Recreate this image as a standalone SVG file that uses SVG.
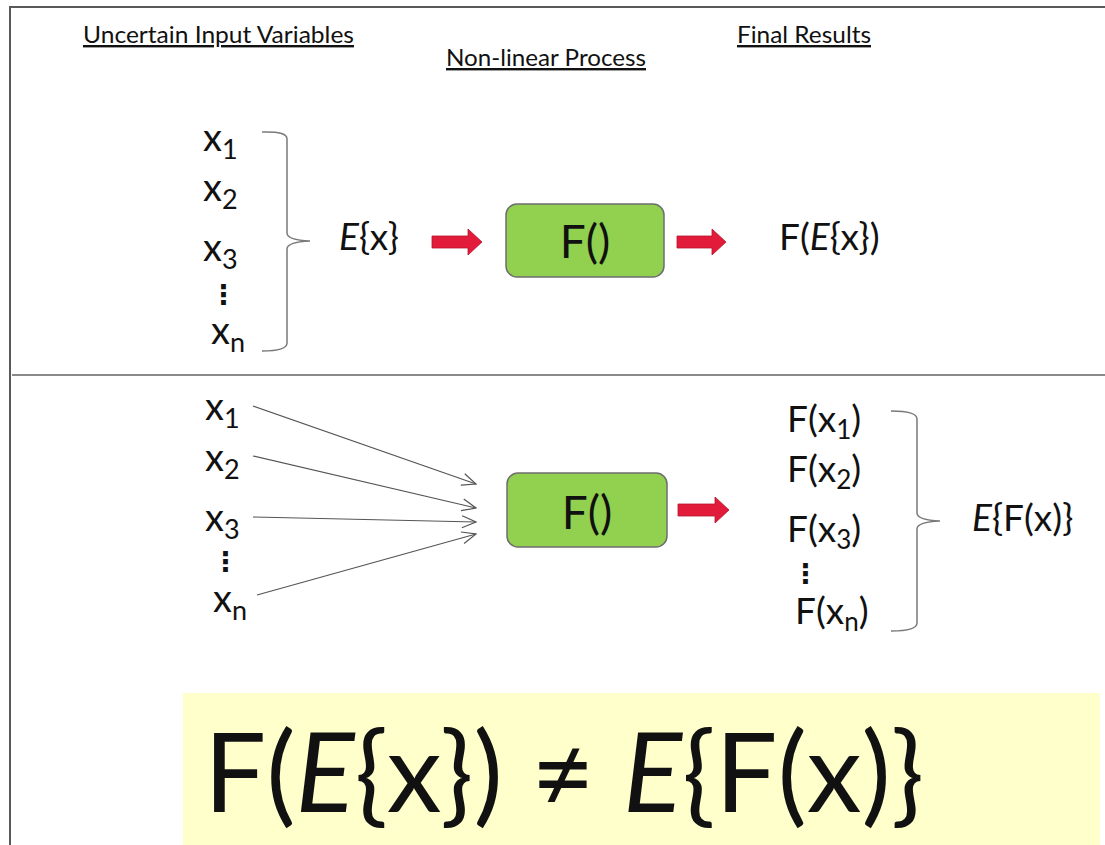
<svg xmlns="http://www.w3.org/2000/svg" width="1105" height="845" viewBox="0 0 1105 845">
  <defs>
    <style>
      text { font-family: Lato, "Open Sans", "DejaVu Sans", sans-serif; fill: #111; }
      .head { font-size: 24px; text-decoration: underline; }
      .var { font-size: 38px; }
      .sub { font-size: 27px; }
      .res { font-size: 37px; }
      .rsub { font-size: 26px; }
      .fn { font-size: 46px; text-anchor: middle; }
      .dots { font-family: "DejaVu Sans", sans-serif; font-size: 27px; font-weight: bold; }
      .it { font-style: italic; }
      .frame { stroke: #5a5a5a; stroke-width: 2; fill: none; }
      .divider { stroke: #8a8a8a; stroke-width: 2; fill: none; }
      .brace { stroke: #7a7a7a; stroke-width: 1.5; fill: none; }
      .box { fill: #92D050; stroke: #6e6e6e; stroke-width: 1.5; }
      .bigarrow { fill: #E31B3A; stroke: #B5152E; stroke-width: 0.8; }
      .thin { stroke: #555; stroke-width: 1.2; fill: none; marker-end: url(#open); }
    </style>
    <marker id="open" viewBox="0 0 16 14" refX="15" refY="7" markerWidth="16" markerHeight="14" markerUnits="userSpaceOnUse" orient="auto">
      <path d="M1,1 L15,7 L1,13" fill="none" stroke="#555" stroke-width="1.2"/>
    </marker>
  </defs>

  <rect width="1105" height="845" fill="#ffffff"/>

  <!-- frame and section divider -->
  <g id="frame">
    <path class="frame" d="M10,845 L10,7 L1105,7"/>
    <path class="divider" d="M12,375 L1105,375"/>
  </g>

  <!-- column headings -->
  <g id="headings">
    <text class="head" x="83" y="43" textLength="271" lengthAdjust="spacingAndGlyphs">Uncertain Input Variables</text>
    <text class="head" x="446" y="66" textLength="200" lengthAdjust="spacingAndGlyphs">Non-linear Process</text>
    <text class="head" x="737" y="43" textLength="134" lengthAdjust="spacingAndGlyphs">Final Results</text>
  </g>

  <!-- upper case: function of the expected value -->
  <g id="top-inputs">
    <text class="var" x="203" y="151">x<tspan class="sub" dy="8">1</tspan></text>
    <text class="var" x="203" y="201">x<tspan class="sub" dy="8">2</tspan></text>
    <text class="var" x="203" y="261">x<tspan class="sub" dy="8">3</tspan></text>
    <text class="dots" x="210" y="304">⋮</text>
    <text class="var" x="211" y="344">x<tspan class="sub" dy="8">n</tspan></text>
  </g>
  <g id="top-brace">
    <path class="brace" d="M262,132 Q287,131 287,139 L287,233 Q287,240 310,241 Q287,242 287,249 L287,343 Q287,351 262,351"/>
  </g>
  <g id="top-mean">
    <text class="res" x="339" y="250"><tspan class="it">E</tspan>{x}</text>
  </g>
  <g id="top-process">
    <rect class="box" x="506" y="204" width="158" height="73" rx="11"/>
    <text class="fn" x="585" y="258">F()</text>
  </g>
  <g id="top-result">
    <text class="res" x="779" y="250">F(<tspan class="it">E</tspan>{x})</text>
  </g>

  <!-- lower case: expected value of the function -->
  <g id="bottom-inputs">
    <text class="var" x="205" y="420">x<tspan class="sub" dy="8">1</tspan></text>
    <text class="var" x="205" y="471">x<tspan class="sub" dy="8">2</tspan></text>
    <text class="var" x="205" y="531">x<tspan class="sub" dy="8">3</tspan></text>
    <text class="dots" x="212" y="571">⋮</text>
    <text class="var" x="213" y="612">x<tspan class="sub" dy="8">n</tspan></text>
  </g>
  <g id="bottom-process">
    <rect class="box" x="507" y="473" width="160" height="74" rx="11"/>
    <text class="fn" x="587" y="529">F()</text>
  </g>
  <g id="bottom-results">
    <text class="res" x="787" y="432">F(x<tspan class="rsub" dy="7">1</tspan><tspan dy="-7">)</tspan></text>
    <text class="res" x="787" y="482">F(x<tspan class="rsub" dy="7">2</tspan><tspan dy="-7">)</tspan></text>
    <text class="res" x="787" y="542">F(x<tspan class="rsub" dy="7">3</tspan><tspan dy="-7">)</tspan></text>
    <text class="dots" x="792" y="583">⋮</text>
    <text class="res" x="795" y="624">F(x<tspan class="rsub" dy="7">n</tspan><tspan dy="-7">)</tspan></text>
  </g>
  <g id="bottom-brace">
    <path class="brace" d="M891,411 Q917,411 917,419 L917,513 Q917,520 940,521 Q917,522 917,529 L917,623 Q917,631 891,631"/>
  </g>
  <g id="bottom-mean">
    <text class="res" x="972" y="531"><tspan class="it">E</tspan>{F(x)}</text>
  </g>

  <!-- connectors -->
  <g id="connectors">
    <polygon class="bigarrow" points="432,236 468,236 468,229 482,242 468,255 468,248 432,248"/>
    <polygon class="bigarrow" points="677,236 712,236 712,229 726,242 712,255 712,248 677,248"/>
    <polygon class="bigarrow" points="678,504 715,504 715,497 729,510 715,523 715,516 678,516"/>
    <line class="thin" x1="253" y1="406" x2="476" y2="484"/>
    <line class="thin" x1="253" y1="456" x2="476" y2="508"/>
    <line class="thin" x1="253" y1="517" x2="476" y2="522"/>
    <line class="thin" x1="257" y1="595" x2="476" y2="534"/>
  </g>

  <!-- summary inequality -->
  <g id="summary">
    <rect x="183" y="693" width="917" height="152" fill="#FFFFCC"/>
    <text x="204" y="812" style="font-size:110px">F(<tspan class="it">E</tspan>{x}) ≠ <tspan class="it">E</tspan>{F(x)}</text>
  </g>
</svg>
